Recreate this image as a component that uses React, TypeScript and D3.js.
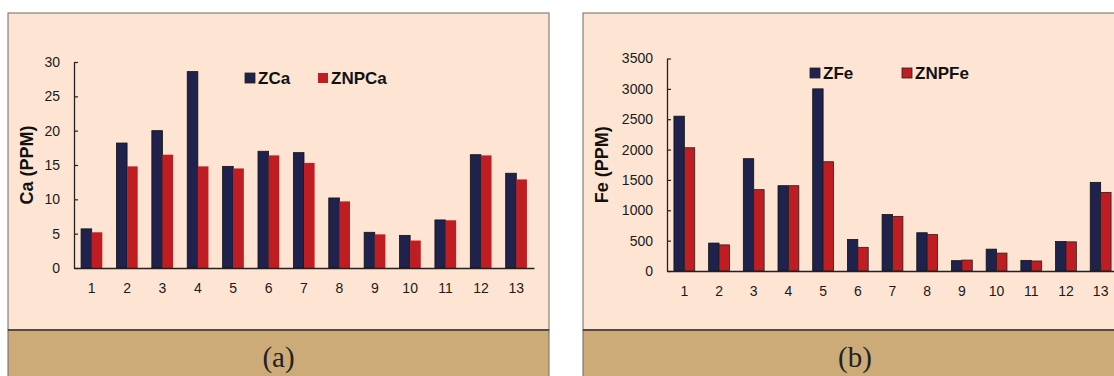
import React, { useEffect, useRef } from "react";
import * as d3 from "d3";

const categories = ["1", "2", "3", "4", "5", "6", "7", "8", "9", "10", "11", "12", "13"];
const caZ = [5.7, 18.2, 20.0, 28.6, 14.8, 17.0, 16.8, 10.2, 5.2, 4.75, 7.0, 16.5, 13.8];
const caZNP = [5.2, 14.8, 16.5, 14.8, 14.5, 16.4, 15.3, 9.7, 4.9, 4.0, 6.95, 16.4, 12.9];
const feZ = [2550, 460, 1850, 1405, 3000, 520, 930, 630, 170, 360, 175, 485, 1460];
const feZNP = [2030, 430, 1340, 1405, 1800, 390, 900, 600, 180, 295, 165, 480, 1295];
const caTicks = [0, 5, 10, 15, 20, 25, 30];
const feTicks = [0, 500, 1000, 1500, 2000, 2500, 3000, 3500];

const NAVY = "#1f224d";
const RED = "#c01d22";
const PINK = "#fee5d3";
const TAN = "#cdab78";
const FONT = "'Liberation Sans', Arial, Helvetica, sans-serif";

type PanelCfg = {
  px: number; pw: number; label: string;
  axisX: number; axisEnd: number; yTop: number; yZero: number;
  max: number; ticks: number[]; title: string;
  s1: number[]; s2: number[]; n1: string; n2: string;
  legX1: number; legX2: number; legY: number; outlineRed: boolean;
};

const panels: PanelCfg[] = [
  {
    px: 8, pw: 541, label: "(a)", axisX: 74, axisEnd: 534, yTop: 62, yZero: 268,
    max: 30, ticks: caTicks, title: "Ca (PPM)", s1: caZ, s2: caZNP, n1: "ZCa", n2: "ZNPCa",
    legX1: 245, legX2: 318, legY: 78, outlineRed: false,
  },
  {
    px: 583, pw: 544, label: "(b)", axisX: 667, axisEnd: 1118, yTop: 58.5, yZero: 271,
    max: 3500, ticks: feTicks, title: "Fe (PPM)", s1: feZ, s2: feZNP, n1: "ZFe", n2: "ZNPFe",
    legX1: 810, legX2: 902, legY: 73, outlineRed: true,
  },
];

export default function App() {
  const ref = useRef<SVGSVGElement | null>(null);
  useEffect(() => {
    const svg = d3.select(ref.current);
    svg.selectAll("*").remove();
    panels.forEach((p) => {
      const g = svg.append("g");
      g.append("rect").attr("x", p.px).attr("y", 13).attr("width", p.pw).attr("height", 317)
        .attr("fill", PINK).attr("stroke", "#6b6b6b").attr("stroke-width", 1);
      g.append("rect").attr("x", p.px).attr("y", 330).attr("width", p.pw).attr("height", 60)
        .attr("fill", TAN).attr("stroke", "#6b6b6b").attr("stroke-width", 1);
      g.append("line").attr("x1", p.px).attr("x2", p.px + p.pw).attr("y1", 330).attr("y2", 330)
        .attr("stroke", "#111").attr("stroke-width", 1.2);
      g.append("text").attr("x", p.px + p.pw / 2).attr("y", 367).attr("text-anchor", "middle")
        .attr("font-family", "'Liberation Serif', 'Times New Roman', serif").attr("font-size", 29)
        .attr("fill", "#222").text(p.label);

      const x0 = d3.scaleBand<string>().domain(categories).range([p.axisX, p.axisEnd]).padding(0);
      const bw = x0.bandwidth();
      const x1 = d3.scaleBand<string>().domain(["a", "b"]).range([bw * 0.2, bw * 0.8]).padding(0);
      const y = d3.scaleLinear().domain([0, p.max]).range([p.yZero, p.yTop]);

      const rows = categories.map((c, i) => ({ c, a: p.s1[i], b: p.s2[i] }));
      const grp = g.append("g").selectAll("g").data(rows).join("g")
        .attr("transform", (d) => `translate(${x0(d.c)},0)`);
      grp.append("rect").attr("x", x1("a")!).attr("width", x1.bandwidth())
        .attr("y", (d) => y(d.a)).attr("height", (d) => y(0) - y(d.a))
        .attr("fill", NAVY).attr("stroke", "#111").attr("stroke-width", 0.8);
      grp.append("rect").attr("x", x1("b")!).attr("width", x1.bandwidth())
        .attr("y", (d) => y(d.b)).attr("height", (d) => y(0) - y(d.b))
        .attr("fill", RED).attr("stroke", p.outlineRed ? "#222" : "none").attr("stroke-width", 0.8);

      const ya = g.append("g").attr("transform", `translate(${p.axisX},0)`)
        .call(d3.axisLeft(y).tickValues(p.ticks).tickSizeInner(-4).tickSizeOuter(0).tickPadding(14)
          .tickFormat((d) => String(d)));
      ya.select(".domain").attr("stroke", "#222").attr("stroke-width", 1.3);
      ya.selectAll(".tick line").attr("stroke", "#222").attr("stroke-width", 1.2);
      ya.selectAll("text").attr("font-family", FONT).attr("font-size", 14).attr("fill", "#1a1a1a");

      const xa = g.append("g").attr("transform", `translate(0,${p.yZero})`)
        .call(d3.axisBottom(x0).tickSize(0).tickSizeOuter(0).tickPadding(15));
      xa.select(".domain").attr("stroke", "#222").attr("stroke-width", 1.3);
      xa.selectAll("text").attr("font-family", FONT).attr("font-size", 14).attr("fill", "#1a1a1a");

      g.append("text")
        .attr("transform", `translate(${p.px + 19},${(p.yTop + p.yZero) / 2}) rotate(-90)`)
        .attr("text-anchor", "middle").attr("dy", "0.35em")
        .attr("font-family", FONT).attr("font-size", 18).attr("font-weight", "bold").attr("fill", "#111")
        .text(p.title);

      const leg = [
        { x: p.legX1, name: p.n1, color: NAVY, stroke: "#222" },
        { x: p.legX2, name: p.n2, color: RED, stroke: p.outlineRed ? "#222" : "none" },
      ];
      leg.forEach((l) => {
        g.append("rect").attr("x", l.x).attr("y", p.legY - 5).attr("width", 10).attr("height", 10)
          .attr("fill", l.color).attr("stroke", l.stroke).attr("stroke-width", 0.8);
        g.append("text").attr("x", l.x + 13).attr("y", p.legY).attr("dy", "0.36em")
          .attr("font-family", FONT).attr("font-size", 17).attr("font-weight", "bold").attr("fill", "#111")
          .text(l.name);
      });
    });
  }, []);
  return (
    <svg ref={ref} width={1114} height={376}
      style={{ position: "absolute", left: 0, top: 0, background: "#fff" }} />
  );
}
